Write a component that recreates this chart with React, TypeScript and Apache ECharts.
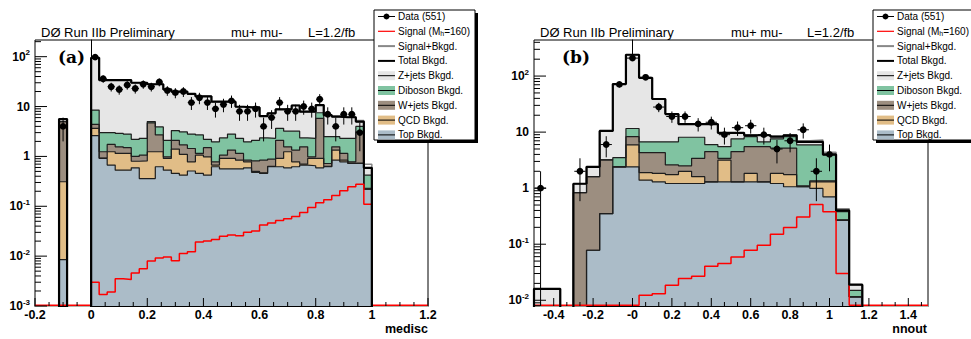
import React, { useEffect, useRef } from 'react';
import * as echarts from 'echarts';

const FONT = '"Liberation Sans", Arial, Helvetica, sans-serif';
const TINY = 1e-6;

// ---------- Panel (a): medisc, 49 bins on [-0.2, 1.2] ----------
const medLow = -0.2;
const medBinWidth = 1.4 / 49;
const medYMin = 0.001;
const medYMax = 216;
const medTopCum = [0, 0, 0, 0.0085, 0, 0, 0,
  2.6, 0.91, 0.67, 0.53, 0.53, 0.59, 0.36, 0.36, 0.62, 0.53, 0.455, 0.42, 0.51, 0.455, 0.42, 0.62, 0.56, 0.56,
  0.56, 0.59, 0.48, 0.455, 0.62, 0.62, 0.59, 0.62, 0.67, 0.65, 0.59, 0.62, 0.84, 0.78, 0.72, 0.72, 0.22,
  0, 0, 0, 0, 0, 0, 0];
const medQcdCum = [0, 0, 0, 0.31, 0, 0, 0,
  3.65, 0.93, 1.24, 1.15, 1.15, 0.8, 0.81, 1.24, 1.24, 0.91, 1.4, 1.1, 0.78, 1.06, 0.98, 0.67, 0.91, 0.91,
  0.84, 0.78, 0.5, 0.47, 0.63, 0.91, 1.24, 0.78, 0.7, 0.91, 0.91, 0.63, 1.34, 0.84, 0.73, 0.73, 0.22,
  0, 0, 0, 0, 0, 0, 0];
const medWjetsCum = [0, 0, 0, 5.0, 0, 0, 0,
  4.4, 1.24, 1.74, 1.56, 1.5, 1.0, 1.06, 4.7, 2.7, 0.98, 2.1, 1.7, 1.44, 1.15, 1.5, 0.78, 1.06, 1.34,
  1.15, 0.84, 0.81, 0.84, 0.88, 2.1, 1.56, 1.34, 1.56, 0.98, 5.8, 0.72, 1.56, 1.15, 0.78, 3.1, 0.23,
  0, 0, 0, 0, 0, 0, 0];
const medDibosonCum = [0, 0, 0, 5.0, 0, 0, 0,
  8.5, 3.0, 3.0, 2.9, 2.8, 2.2, 2.3, 5.0, 3.9, 2.1, 3.3, 3.1, 2.8, 2.7, 2.2, 1.96, 2.35, 2.8,
  2.3, 1.96, 2.1, 2.35, 2.3, 3.65, 3.2, 3.2, 2.35, 2.3, 7.5, 2.5, 2.5, 2.3, 2.3, 4.0, 0.42,
  0, 0, 0, 0, 0, 0, 0];
const medTotalBkg = [0, 0, 0, 5.6, 0, 0, 0,
  95, 34, 34, 34, 34, 30, 30, 28, 28, 22, 20, 20, 18, 16, 16, 12.5, 12.5, 12.5,
  9.9, 9.6, 9.6, 6.4, 7.3, 8.8, 8.8, 10.5, 7.9, 7.9, 10.7, 6.7, 6.3, 6.1, 6.1, 5.0, 0.59,
  0, 0, 0, 0, 0, 0, 0];
const medSignal = [0, 0, 0, 0, 0, 0, 0,
  0.003, 0.0017, 0.0019, 0.0035, 0.0034, 0.0046, 0.0056, 0.008, 0.0092, 0.0096, 0.0081, 0.0113, 0.0122, 0.0193, 0.02, 0.0215, 0.025, 0.0265,
  0.0255, 0.03, 0.032, 0.042, 0.046, 0.052, 0.056, 0.062, 0.075, 0.095, 0.118, 0.135, 0.165, 0.205, 0.245, 0.277, 0.11,
  0, 0, 0, 0, 0, 0, 0];
const medData = [0, 0, 0, 4, 0, 0, 0,
  98, 36, 25, 22, 27, 23, 28, 25, 31, 21, 19, 20, 12, 15, 12, 9, 11, 13,
  8, 8, 9, 4, 6, 12, 8, 8, 10, 9, 14, 7, 4, 7, 7, 3, 0,
  0, 0, 0, 0, 0, 0, 0];
const medMajorX = [-0.2, 0, 0.2, 0.4, 0.6, 0.8, 1.0, 1.2];

// ---------- Panel (b): nnout, 30 bins on [-0.5, 1.5] ----------
const nnLow = -0.5;
const nnBinWidth = 2 / 30;
const nnYMin = 0.0079;
const nnYMax = 440;
const nnTopCum = [0, 0, 0, 0, 0.078, 0.35, 2.4, 2.4, 1.39, 1.3, 1.21, 1.21, 1.21, 1.3, 1.3,
  1.3, 1.3, 1.3, 1.21, 1.06, 1.06, 0.99, 0.7, 0.27, 0.0115, 0, 0, 0, 0, 0];
const nnQcdCum = [0, 0, 0, 0, 0.078, 0.35, 2.4, 5.9, 1.9, 1.83, 1.75, 2.0, 1.6, 1.3, 3.16,
  1.3, 1.83, 1.3, 1.83, 1.75, 1.06, 1.3, 1.3, 0.27, 0.0115, 0, 0, 0, 0, 0];
const nnWjetsCum = [0, 0, 0, 0.83, 1.6, 3.2, 2.4, 8.3, 4.3, 4.3, 2.6, 2.5, 3.4, 4.5, 3.4,
  4.5, 5.5, 5.5, 5.2, 5.2, 1.1, 1.35, 1.35, 0.27, 0.0115, 0, 0, 0, 0, 0];
const nnDibosonCum = [0, 0, 0, 0.83, 1.6, 3.2, 3.5, 11.6, 6.7, 6.7, 6.7, 8.1, 8.1, 6.0, 5.5,
  7.6, 8.3, 6.7, 7.6, 8.3, 5.9, 5.9, 3.9, 0.38, 0.015, 0, 0, 0, 0, 0];
const nnTotalBkg = [0.016, 0.016, 0, 1.2, 2.4, 10.5, 72, 240, 93, 39, 21, 13.9, 13.9, 13.9, 9.7,
  9.7, 8.8, 8.8, 8.3, 8.8, 6.7, 6.7, 4.0, 0.4, 0.019, 0, 0, 0, 0, 0];
const nnSignal = [0, 0, 0, 0, 0, 0, 0, 0, 0.0123, 0.0131, 0.0185, 0.0244, 0.0268, 0.0405, 0.0452,
  0.0594, 0.078, 0.096, 0.151, 0.199, 0.307, 0.511, 0.378, 0.03, 0, 0, 0, 0, 0, 0];
const nnData = [1, 0, 0, 2, 0, 6, 71, 209, 95, 28, 19, 19, 14, 15, 9,
  12, 13, 9, 5, 7, 11, 2, 4, 0, 0, 0, 0, 0, 0, 0];
const nnMajorX = [-0.4, -0.2, 0, 0.2, 0.4, 0.6, 0.8, 1.0, 1.2, 1.4];

// ---------- Legend ----------
const legendLabels = ['Data (551)', 'Signal (M{sub|h}=160)', 'Signal+Bkgd.', 'Total Bkgd.', 'Z+jets Bkgd.',
  'Diboson Bkgd.', 'W+jets Bkgd.', 'QCD Bkgd.', 'Top Bkgd.'];

const C_Z = '#e6e6e6';
const C_DIB = '#80c3a1';
const C_W = '#9c8e80';
const C_QCD = '#e1bd87';
const C_TOP = '#abbcc8';
const legendKinds = ['data', '#ff0000', '#888888', '#000000', C_Z, C_DIB, C_W, C_QCD, C_TOP];

function steps(lo: number, w: number, vals: number[], floor: number) {
  const pts: number[][] = [[lo, floor]];
  vals.forEach((v, i) => pts.push([lo + i * w, v > 0 ? v : floor]));
  pts.push([lo + vals.length * w, floor]);
  return pts;
}

function sumArr(a: number[], b: number[]) {
  return a.map((v, i) => v + b[i]);
}

function areaSeries(g: number, lo: number, w: number, cum: number[], color: string) {
  return {
    type: 'line', xAxisIndex: g, yAxisIndex: g, data: steps(lo, w, cum, TINY), step: 'end',
    symbol: 'none', silent: true, clip: true, z: 2,
    lineStyle: { color: '#1e1e1e', width: 1.2 },
    areaStyle: { color, opacity: 1, origin: 'start' },
  };
}

function lineSeries(g: number, lo: number, w: number, vals: number[], floor: number, color: string, width: number, z: number) {
  return {
    type: 'line', xAxisIndex: g, yAxisIndex: g, data: steps(lo, w, vals, floor), step: 'end',
    symbol: 'none', silent: true, clip: true, z,
    lineStyle: { color, width },
  };
}

function dataSeries(g: number, lo: number, w: number, vals: number[], yMin: number, hwFrac: number) {
  const pts: number[][] = [];
  vals.forEach((n, i) => { if (n > 0) pts.push([lo + (i + 0.5) * w, n, w * hwFrac]); });
  return {
    type: 'custom', xAxisIndex: g, yAxisIndex: g, data: pts, z: 8, silent: true,
    encode: { x: 0, y: 1 },
    renderItem: (params: any, api: any) => {
      const x = api.value(0), n = api.value(1), hw = api.value(2);
      const c = api.coord([x, n]);
      const top = api.coord([x, n + Math.sqrt(n)]);
      const bot = api.coord([x, Math.max(n - Math.sqrt(n), yMin)]);
      const l = api.coord([x - hw, n]);
      const r = api.coord([x + hw, n]);
      return {
        type: 'group', children: [
          { type: 'line', shape: { x1: c[0], y1: top[1], x2: c[0], y2: bot[1] }, style: { stroke: '#000', lineWidth: 1 } },
          { type: 'line', shape: { x1: l[0], y1: c[1], x2: r[0], y2: c[1] }, style: { stroke: '#000', lineWidth: 1 } },
          { type: 'circle', shape: { cx: c[0], cy: c[1], r: 3.4 }, style: { fill: '#000' } },
        ],
      };
    },
  };
}

function logTicks(yMin: number, yMax: number) {
  const out: number[][] = [];
  for (let d = -4; d <= 3; d++) {
    for (let m = 1; m <= 9; m++) {
      const v = m * Math.pow(10, d);
      if (v >= yMin * 0.999 && v <= yMax) out.push([v, m === 1 ? 12 : 6]);
    }
  }
  return out;
}

function tickSeries(g: number, xMin: number, yMin: number, yMax: number, majors: number[], minorStep: number, xMax: number) {
  const yt = logTicks(yMin, yMax).map(([v, len]) => [xMin, v, len, 0]);
  const xt: number[][] = [];
  majors.forEach((m) => xt.push([m, yMin, 8, 1]));
  const start = majors[0];
  for (let k = -10; k < 200; k++) {
    const v = start + k * minorStep;
    if (v < xMin - 1e-9 || v > xMax + 1e-9) continue;
    const isMajor = majors.some((m) => Math.abs(m - v) < 1e-6);
    if (!isMajor) xt.push([v, yMin, 4, 1]);
  }
  return {
    type: 'custom', xAxisIndex: g, yAxisIndex: g, data: yt.concat(xt), z: 9, silent: true,
    encode: { x: 0, y: 1 },
    renderItem: (params: any, api: any) => {
      const c = api.coord([api.value(0), api.value(1)]);
      const len = api.value(2);
      const vertical = api.value(3) === 1;
      return {
        type: 'line',
        shape: vertical ? { x1: c[0], y1: c[1], x2: c[0], y2: c[1] - len } : { x1: c[0], y1: c[1], x2: c[0] + len, y2: c[1] },
        style: { stroke: '#000', lineWidth: 1 },
      };
    },
  };
}

function yAxisCfg(g: number, min: number, max: number) {
  return {
    gridIndex: g, type: 'log', logBase: 10, min, max,
    axisLine: { show: true, lineStyle: { color: '#000', width: 1 } },
    axisTick: { show: false }, splitLine: { show: false }, minorTick: { show: false },
    axisLabel: {
      color: '#000', fontFamily: FONT, fontWeight: 'bold', fontSize: 12, margin: 5,
      formatter: (v: number) => {
        const e = Math.log10(v);
        const r = Math.round(e);
        if (Math.abs(e - r) > 1e-6) return '';
        if (r === 0) return '1';
        if (r === 1) return '10';
        return '10{s|' + r + '}';
      },
      rich: {
        s: { fontSize: 8, fontWeight: 'bold', fontFamily: FONT, verticalAlign: 'top', lineHeight: 16, padding: [0, 0, 0, 0] },
      },
    },
  };
}

function legendGraphic(x0: number) {
  const els: any[] = [];
  const top = 10, w = 101, h = 130;
  els.push({ type: 'rect', z: 100, shape: { x: x0 + 3, y: top + 3, width: w, height: h }, style: { fill: '#000' } });
  els.push({ type: 'rect', z: 101, shape: { x: x0, y: top, width: w, height: h }, style: { fill: '#fff', stroke: '#000', lineWidth: 1 } });
  legendLabels.forEach((label, i) => {
    const y = top + 6.5 + i * 14.8;
    const x1 = x0 + 4, x2 = x0 + 21, xm = (x1 + x2) / 2;
    const kind = legendKinds[i];
    if (kind === 'data') {
      els.push({ type: 'line', z: 102, shape: { x1, y1: y, x2, y2: y }, style: { stroke: '#000', lineWidth: 1 } });
      els.push({ type: 'circle', z: 103, shape: { cx: xm, cy: y, r: 3 }, style: { fill: '#000' } });
    } else if (i <= 3) {
      els.push({ type: 'line', z: 102, shape: { x1, y1: y, x2, y2: y }, style: { stroke: kind, lineWidth: i === 1 ? 1.2 : 2 } });
    } else {
      els.push({ type: 'rect', z: 102, shape: { x: x1, y: y - 4.5, width: x2 - x1, height: 9 }, style: { fill: kind } });
      els.push({ type: 'line', z: 103, shape: { x1, y1: y, x2, y2: y }, style: { stroke: '#000', lineWidth: 1 } });
    }
    els.push({
      type: 'text', z: 104, x: x0 + 24, y,
      style: {
        text: label, fill: '#000', fontFamily: FONT, fontSize: 10, verticalAlign: 'middle', align: 'left',
        rich: { sub: { fontSize: 7, fontFamily: FONT, verticalAlign: 'bottom', padding: [5, 0, 0, 0] } },
      },
    });
  });
  return els;
}

function titleGraphic(xs: number[]) {
  const texts = ['DØ Run IIb Preliminary', 'mu+ mu-', 'L=1.2/fb'];
  return texts.map((t, i) => ({
    type: 'text', z: 99, x: xs[i], y: 32,
    style: { text: t, fill: '#000', fontFamily: FONT, fontSize: 13, verticalAlign: 'middle', align: 'left' },
  }));
}

export default function App() {
  const ref = useRef<HTMLDivElement>(null);
  useEffect(() => {
    if (!ref.current) return;
    const chart = echarts.init(ref.current, undefined, { renderer: 'svg' });
    const xLabelBase = { color: '#000', fontFamily: FONT, fontWeight: 'bold', fontSize: 12.5, margin: 2 };
    const option: any = {
      animation: false,
      backgroundColor: '#fff',
      grid: [
        { left: 35, top: 40, width: 393, height: 266, show: true, borderColor: '#000', borderWidth: 1, backgroundColor: '#fff' },
        { left: 534, top: 40, width: 394, height: 266, show: true, borderColor: '#000', borderWidth: 1, backgroundColor: '#fff' },
      ],
      xAxis: [
        {
          gridIndex: 0, type: 'value', min: medLow, max: 1.2, interval: 0.2,
          axisLine: { show: true, onZero: false, lineStyle: { color: '#000' } },
          axisTick: { show: false }, splitLine: { show: false },
          axisLabel: { ...xLabelBase, showMinLabel: true, showMaxLabel: true, formatter: (v: number) => { const r = Math.round(v * 10) / 10; return r === 0 ? '0' : String(r); } },
        },
        {
          gridIndex: 1, type: 'value', min: nnLow, max: 1.5,
          axisLine: { show: true, onZero: false, lineStyle: { color: '#000' } },
          axisTick: { show: false }, splitLine: { show: false },
          axisLabel: { ...xLabelBase, customValues: nnMajorX, formatter: (v: number) => { const r = Math.round(v * 10) / 10; return r === 0 ? '-0' : String(r); } },
        },
      ],
      yAxis: [yAxisCfg(0, medYMin, medYMax), yAxisCfg(1, nnYMin, nnYMax)],
      series: [
        // panel (a)
        areaSeries(0, medLow, medBinWidth, medTotalBkg, C_Z),
        areaSeries(0, medLow, medBinWidth, medDibosonCum, C_DIB),
        areaSeries(0, medLow, medBinWidth, medWjetsCum, C_W),
        areaSeries(0, medLow, medBinWidth, medQcdCum, C_QCD),
        areaSeries(0, medLow, medBinWidth, medTopCum, C_TOP),
        lineSeries(0, medLow, medBinWidth, medSignal, medYMin * 1.03, '#ff0000', 1.5, 4),
        lineSeries(0, medLow, medBinWidth, sumArr(medTotalBkg, medSignal), TINY, '#888888', 1.5, 5),
        lineSeries(0, medLow, medBinWidth, medTotalBkg, TINY, '#000000', 2.2, 6),
        dataSeries(0, medLow, medBinWidth, medData, medYMin, 0.45),
        tickSeries(0, medLow, medYMin, medYMax, medMajorX, 0.05, 1.2),
        // panel (b)
        areaSeries(1, nnLow, nnBinWidth, nnTotalBkg, C_Z),
        areaSeries(1, nnLow, nnBinWidth, nnDibosonCum, C_DIB),
        areaSeries(1, nnLow, nnBinWidth, nnWjetsCum, C_W),
        areaSeries(1, nnLow, nnBinWidth, nnQcdCum, C_QCD),
        areaSeries(1, nnLow, nnBinWidth, nnTopCum, C_TOP),
        lineSeries(1, nnLow, nnBinWidth, nnSignal, nnYMin * 1.03, '#ff0000', 1.5, 4),
        lineSeries(1, nnLow, nnBinWidth, sumArr(nnTotalBkg, nnSignal), TINY, '#888888', 1.5, 5),
        lineSeries(1, nnLow, nnBinWidth, nnTotalBkg, TINY, '#000000', 2.2, 6),
        dataSeries(1, nnLow, nnBinWidth, nnData, nnYMin, 0.43),
        tickSeries(1, nnLow, nnYMin, nnYMax, nnMajorX, 0.2 / 3, 1.5),
      ],
      graphic: [
        ...titleGraphic([41, 231, 308]),
        ...titleGraphic([540, 731, 807]),
        { type: 'text', z: 99, x: 58, y: 57, style: { text: '(a)', fill: '#000', fontFamily: '"DejaVu Serif", serif', fontWeight: 'bold', fontSize: 17, verticalAlign: 'middle' } },
        { type: 'text', z: 99, x: 562, y: 57, style: { text: '(b)', fill: '#000', fontFamily: '"DejaVu Serif", serif', fontWeight: 'bold', fontSize: 17, verticalAlign: 'middle' } },
        { type: 'text', z: 99, x: 428, y: 329, style: { text: 'medisc', fill: '#000', fontFamily: FONT, fontWeight: 'bold', fontSize: 12.5, align: 'right', verticalAlign: 'middle' } },
        { type: 'text', z: 99, x: 927, y: 329, style: { text: 'nnout', fill: '#000', fontFamily: FONT, fontWeight: 'bold', fontSize: 12.5, align: 'right', verticalAlign: 'middle' } },
        ...legendGraphic(374),
        ...legendGraphic(873),
      ],
    };
    chart.setOption(option);
    return () => chart.dispose();
  }, []);
  return <div ref={ref} style={{ position: 'absolute', left: 0, top: 0, width: 971, height: 339, background: '#fff' }} />;
}
